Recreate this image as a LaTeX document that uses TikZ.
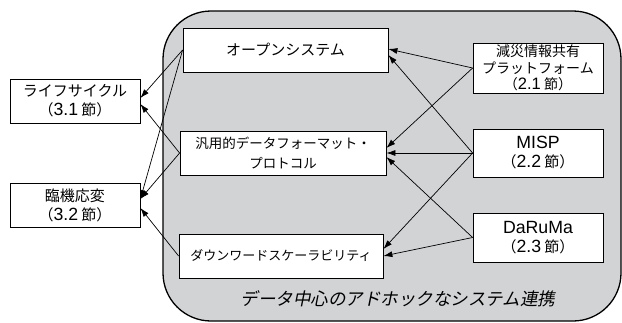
\documentclass[tikz,border=0pt]{standalone}
\usepackage{fontspec}
\setmainfont{Noto Sans CJK JP}
\newfontfamily\slantjp[FakeSlant=0.2]{Noto Sans CJK JP}
\newfontfamily\latf[Scale=1.18]{Liberation Sans}
\usetikzlibrary{arrows.meta}
\definecolor{bggray}{RGB}{210,211,213}
\begin{document}
\begin{tikzpicture}[x=1pt,y=-1pt,
  box/.style={draw=black,fill=white,line width=0.8pt,rectangle,inner sep=0pt,align=center},
  conn/.style={line width=0.7pt,-{Latex[length=9pt,width=6pt]}},
  f15/.style={font=\fontsize{15}{19}\selectfont},
  f14/.style={font=\fontsize{14}{17}\selectfont},
  f13/.style={font=\fontsize{13}{19}\selectfont}]
\useasboundingbox (0,0) rectangle (622,322);
\draw[fill=bggray,line width=1.3pt,rounded corners=48pt] (163,11) rectangle (621,321);
\node[box,f15,minimum width=130pt,minimum height=44pt] (life) at (75,101) {ライフサイクル\\（{\latf 3.1} 節）};
\node[box,f15,minimum width=130pt,minimum height=44pt] (rinki) at (75,205) {臨機応変\\（{\latf 3.2} 節）};
\node[box,f15,minimum width=205pt,minimum height=44pt] (open) at (285.5,50) {オープンシステム};
\node[box,font=\fontsize{13.5}{20}\selectfont,minimum width=206pt,minimum height=44pt] (hanyo) at (283,153) {汎用的データフォーマット・\\プロトコル};
\node[box,f13,minimum width=204pt,minimum height=44pt] (down) at (281,256) {ダウンワードスケーラビリティ};
\node[box,font=\fontsize{14}{16.5}\selectfont,minimum width=130pt,minimum height=50pt] (gensai) at (538,68) {減災情報共有\\プラットフォーム\\（{\latf 2.1} 節）};
\node[box,f15,minimum width=130pt,minimum height=48pt] (misp) at (538,153) {{\latf MISP}\\（{\latf 2.2} 節）};
\node[box,f15,minimum width=130pt,minimum height=49pt] (daruma) at (538,237.5) {{\latf DaRuMa}\\（{\latf 2.3} 節）};
\node[font=\fontsize{17.5}{20}\selectfont\slantjp] (label) at (398,299) {データ中心のアドホックなシステム連携};
\draw[conn] (gensai.west) -- ([yshift=1pt]open.east);
\draw[conn] (misp.west) -- ([yshift=-5pt]open.east);
\draw[conn] (gensai.west) -- ([yshift=5pt]hanyo.east);
\draw[conn] (misp.west) -- (hanyo.east);
\draw[conn] (daruma.west) -- ([yshift=-4pt]hanyo.east);
\draw[conn] (misp.west) -- ([yshift=7pt]down.east);
\draw[conn] (daruma.west) -- (down.east);
\draw[conn] (open.west) -- ([yshift=3pt]life.east);
\draw[conn] (hanyo.west) -- ([yshift=-3pt]life.east);
\draw[conn] (open.west) -- ([yshift=6pt]rinki.east);
\draw[conn] (hanyo.west) -- ([yshift=6pt]rinki.east);
\draw[conn] (down.west) -- ([yshift=-3pt]rinki.east);
\end{tikzpicture}
\end{document}
